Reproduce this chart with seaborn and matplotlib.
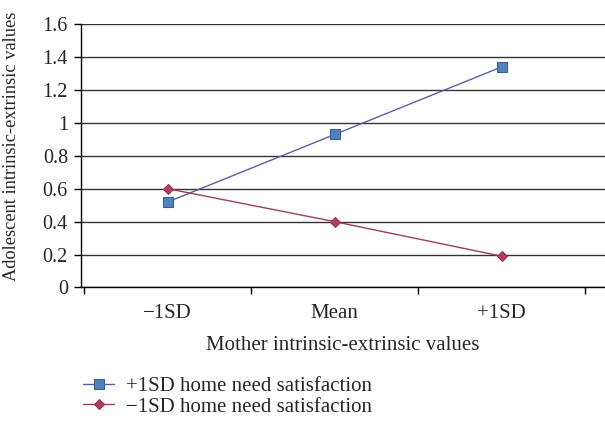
import numpy as np
import pandas as pd
import seaborn as sns
import matplotlib.pyplot as plt

categories = ['\u22121SD', 'Mean', '+1SD']
high_home = [0.52, 0.93, 1.34]
low_home = [0.60, 0.40, 0.19]
series_names = ['+1SD home need satisfaction', '\u22121SD home need satisfaction']

df = pd.DataFrame({
    'x': list(range(len(categories))) * 2,
    'y': high_home + low_home,
    'series': [series_names[0]] * 3 + [series_names[1]] * 3,
})

sns.set_theme(style='white')
plt.rcParams['font.family'] = ['Liberation Serif', 'DejaVu Serif']

fig = plt.figure(figsize=(6.05, 4.24), dpi=100)
ax = fig.add_axes([0.134, 0.322, 0.866, 0.621])

sns.lineplot(data=df[df['series'] == series_names[0]], x='x', y='y', ax=ax,
             color='#5a5fa8', lw=1, marker='s', markersize=7,
             markerfacecolor='#4f81bd', markeredgecolor='#3a5f95', markeredgewidth=0.8,
             label=series_names[0])
sns.lineplot(data=df[df['series'] == series_names[1]], x='x', y='y', ax=ax,
             color='#9e3b6b', lw=1, marker='D', markersize=5.5,
             markerfacecolor='#b0405a', markeredgecolor='#a03050', markeredgewidth=0.8,
             label=series_names[1])

ax.set_ylim(0, 1.6)
ax.set_yticks(np.arange(0, 1.61, 0.2))
ax.set_yticklabels(['0', '0.2', '0.4', '0.6', '0.8', '1', '1.2', '1.4', '1.6'])
ax.set_xlim(-0.52, 2.62)
ax.set_xticks([-0.5, 0.5, 1.5, 2.5])
ax.set_xticklabels([])
ax.set_xticks([0, 1, 2], minor=True)
ax.set_xticklabels(categories, minor=True)
ax.tick_params(axis='x', which='minor', length=0, pad=12, labelsize=15)
ax.tick_params(axis='x', which='major', length=5, width=1, direction='out', color='black', bottom=True)
ax.tick_params(axis='y', length=5, width=1, direction='out', color='black', left=True, labelsize=14.5, pad=4.5)

ax.grid(axis='y', color='#333333', lw=1)
ax.set_axisbelow(True)
for s in ['top', 'right']:
    ax.spines[s].set_visible(False)
for s in ['left', 'bottom']:
    ax.spines[s].set_color('black')
    ax.spines[s].set_linewidth(1)

ax.set_xlabel('Mother intrinsic-extrinsic values', fontsize=15, labelpad=9)
ax.set_ylabel('Adolescent intrinsic-extrinsic values', fontsize=13.2)
ax.yaxis.set_label_coords(-0.116, 0.535)

handles, labels = ax.get_legend_handles_labels()
ax.get_legend().remove()
fig.legend(handles, labels, loc='lower left', bbox_to_anchor=(0.106, -0.027),
           frameon=False, fontsize=15, handlelength=1.5, handletextpad=0.55,
           labelspacing=0.05)

fig.savefig('out.png', dpi=100)
